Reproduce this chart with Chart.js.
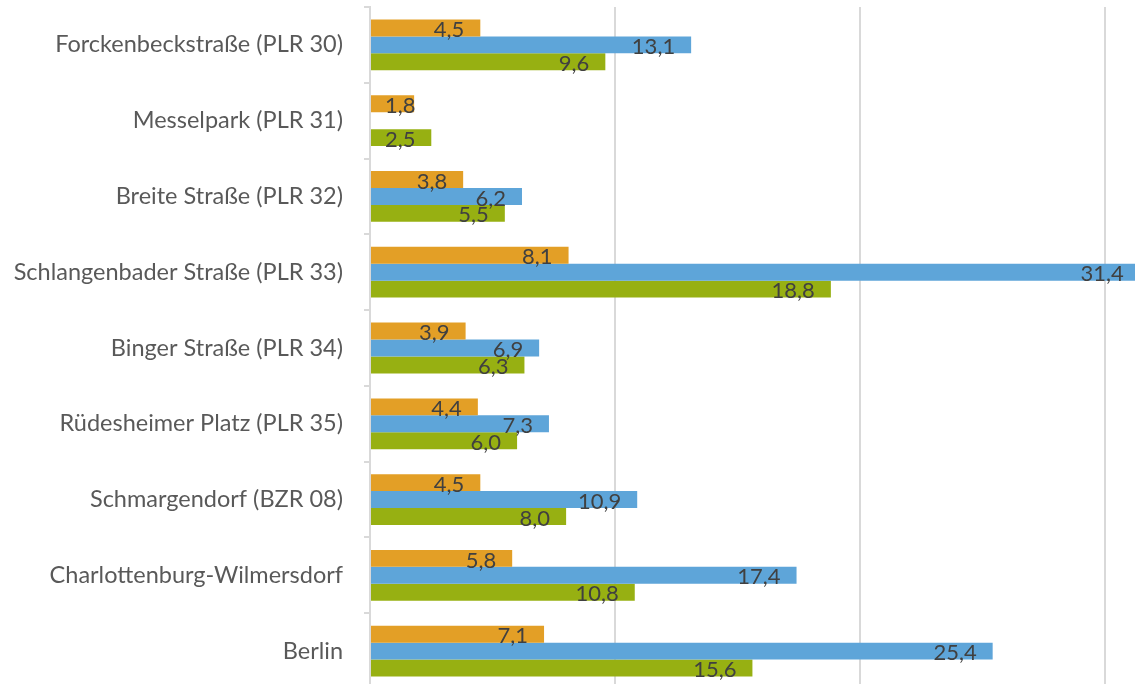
<!DOCTYPE html>
<html>
<head>
<meta charset="utf-8">
<script src="https://cdn.jsdelivr.net/npm/chart.js@4"></script>
<style>
  html, body { margin: 0; padding: 0; background: #fff; overflow: hidden; }
  #wrap { position: relative; width: 1228px; height: 689px; }
</style>
</head>
<body>
<div id="wrap"><canvas id="chart"></canvas></div>
<script>
// Kategorien und Werte
const categories = [
    'Forckenbeckstraße (PLR 30)',
    'Messelpark (PLR 31)',
    'Breite Straße (PLR 32)',
    'Schlangenbader Straße (PLR 33)',
    'Binger Straße (PLR 34)',
    'Rüdesheimer Platz (PLR 35)',
    'Schmargendorf (BZR 08)',
    'Charlottenburg-Wilmersdorf',
    'Berlin'
];
const seriesOrange = [4.5, 1.8, 3.8, 8.1, 3.9, 4.4, 4.5, 5.8, 7.1];
const seriesBlue   = [13.1, null, 6.2, 31.4, 6.9, 7.3, 10.9, 17.4, 25.4];
const seriesGreen  = [9.6, 2.5, 5.5, 18.8, 6.3, 6.0, 8.0, 10.8, 15.6];
const xTicks = [0, 10, 20, 30];

const FONT = 'Lato, "Open Sans", sans-serif';

// Datenbeschriftung: innen am Balkenende, bei kurzen Balken nicht links aus der Achse
const labelPlugin = {
    id: 'barLabels',
    afterDatasetsDraw(chart) {
        const ctx = chart.ctx;
        const left = chart.chartArea.left;
        ctx.save();
        ctx.font = '22px ' + FONT;
        ctx.fillStyle = '#404040';
        ctx.textAlign = 'right';
        ctx.textBaseline = 'middle';
        chart.data.datasets.forEach((ds, i) => {
            chart.getDatasetMeta(i).data.forEach((bar, j) => {
                const v = ds.data[j];
                if (v === null || v === undefined) return;
                const txt = v.toFixed(1).replace('.', ',');
                const w = ctx.measureText(txt).width;
                const x = Math.max(bar.x - 16, left + 15 + w);
                ctx.fillText(txt, x, bar.y + 2);
            });
        });
        ctx.restore();
    }
};

new Chart(document.getElementById('chart'), {
    type: 'bar',
    data: {
        labels: categories,
        datasets: [
            { data: seriesOrange, backgroundColor: '#e39f26' },
            { data: seriesBlue,   backgroundColor: '#5ea5d9' },
            { data: seriesGreen,  backgroundColor: '#97b012' }
        ]
    },
    options: {
        indexAxis: 'y',
        responsive: true,
        maintainAspectRatio: false,
        animation: false,
        layout: { padding: { top: 7, bottom: 0, left: 0, right: 0 } },
        datasets: { bar: { categoryPercentage: 0.67, barPercentage: 1.0 } },
        plugins: { legend: { display: false }, tooltip: { enabled: false } },
        scales: {
            x: {
                min: 0, max: 35,
                afterBuildTicks: (s) => { s.ticks = xTicks.map(v => ({ value: v })); },
                afterFit: (s) => { s.height = 0; s.paddingLeft = 0; s.paddingRight = 0; },
                ticks: { display: false },
                grid: { color: '#d9d9d9', lineWidth: 2, drawTicks: false },
                border: { display: false }
            },
            y: {
                afterFit: (s) => { s.width = 370; s.paddingTop = 0; s.paddingBottom = 0; },
                ticks: { color: '#595959', font: { family: FONT, size: 23.5 }, padding: 21 },
                grid: { offset: true, drawOnChartArea: false, color: '#d9d9d9', tickLength: 6, lineWidth: 2 },
                border: { color: '#d9d9d9', width: 2 }
            }
        }
    },
    plugins: [labelPlugin]
});
</script>
</body>
</html>
